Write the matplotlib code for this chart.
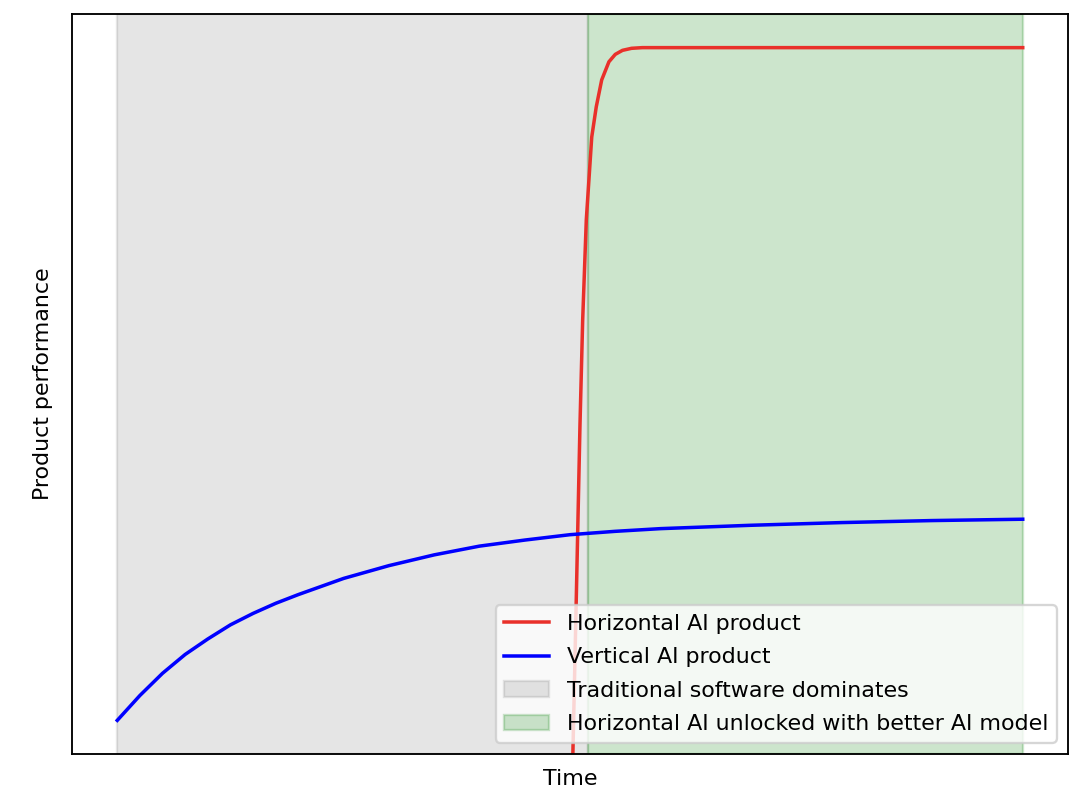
import numpy as np
import matplotlib
matplotlib.use('Agg')
import matplotlib.pyplot as plt

# values (time 0..10, performance ~0..1)
red_x = [5.02, 5.04, 5.07, 5.11, 5.14, 5.18, 5.24, 5.29, 5.35, 5.43, 5.50, 5.58, 5.68, 5.8, 6.0, 7.0, 8.0, 9.0, 10.0]
red_y = [-0.12, 0.0, 0.185, 0.438, 0.595, 0.744, 0.867, 0.912, 0.952, 0.979, 0.990, 0.996, 0.999, 1.0, 1.0, 1.0, 1.0, 1.0, 1.0]

blue_x = [0.0, 0.25, 0.5, 0.75, 1.0, 1.25, 1.5, 1.75, 2.0, 2.5, 3.0, 3.5, 4.0, 4.5, 5.0, 5.5, 6.0, 7.0, 8.0, 9.0, 10.0]
blue_y = [0.0, 0.037, 0.070, 0.098, 0.121, 0.142, 0.159, 0.174, 0.187, 0.211, 0.230, 0.246, 0.259, 0.268, 0.276, 0.281, 0.285, 0.290, 0.294, 0.297, 0.299]

trad_span = (0.0, 5.2)
ai_span = (5.2, 10.0)

dpi = 168
fig = plt.figure(figsize=(1080/dpi, 802/dpi), dpi=dpi)
ax = fig.add_axes([72/1080, 1-754/802, (1068-72)/1080, (754-14)/802])

ax.plot(red_x, red_y, color='#e9302a', lw=1.5, label='Horizontal AI product')
ax.plot(blue_x, blue_y, color='blue', lw=1.5, label='Vertical AI product')
ax.axvspan(*trad_span, color='gray', alpha=0.2, label='Traditional software dominates')
ax.axvspan(*ai_span, color='green', alpha=0.2, label='Horizontal AI unlocked with better AI model')

ax.set_ylim(-0.05, 1.05)
ax.set_xticks([])
ax.set_yticks([])
ax.set_xlabel('Time', fontsize=9.5, labelpad=6.5)
ax.set_ylabel('Product performance', fontsize=9.5, labelpad=8)
ax.legend(loc='lower right', fontsize=9.5, labelspacing=0.6)

fig.savefig('out.png', dpi=dpi)
